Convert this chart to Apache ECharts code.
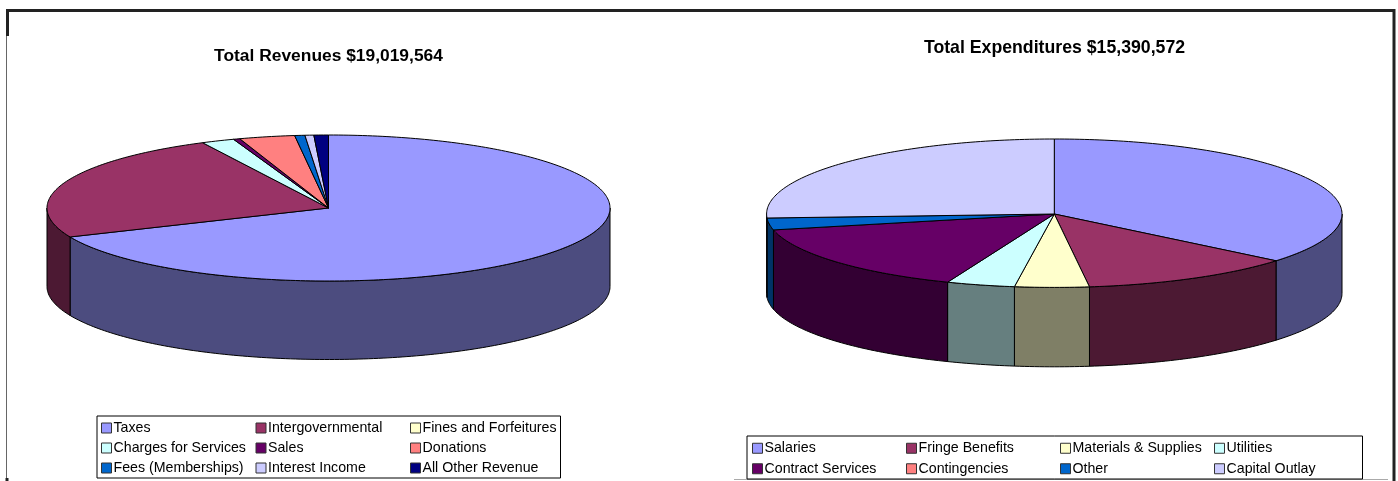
<!DOCTYPE html>
<html>
<head>
<meta charset="utf-8">
<style>
html, body { margin: 0; padding: 0; background: #fff; }
#chart01 { width: 1398px; height: 481px; }
</style>
<script src="https://cdn.jsdelivr.net/npm/echarts@6/dist/echarts.min.js"></script>
</head>
<body>
<div id="chart01"></div>
<script>
var revenueNames = ['Taxes', 'Intergovernmental', 'Fines and Forfeitures', 'Charges for Services', 'Sales', 'Donations', 'Fees (Memberships)', 'Interest Income', 'All Other Revenue'];
var revenueValues = [13029564, 4586000, 0, 362000, 71000, 606000, 111000, 96000, 158000];
var revenueColors = ['#9999FF', '#993366', '#FFFFCC', '#CCFFFF', '#660066', '#FF8080', '#0066CC', '#CCCCFF', '#000080'];

var expenseNames = ['Salaries', 'Fringe Benefits', 'Materials & Supplies', 'Utilities', 'Contract Services', 'Contingencies', 'Other', 'Capital Outlay'];
var expenseValues = [5540000, 1855000, 641000, 590000, 2381000, 0, 402000, 3981572];
var expenseColors = ['#9999FF', '#993366', '#FFFFCC', '#CCFFFF', '#660066', '#FF8080', '#0066CC', '#CCCCFF'];

var fontName = '"Liberation Sans", Arial, sans-serif';
var myChart = echarts.init(document.getElementById('chart01'));

function darken(hex) {
    var n = parseInt(hex.slice(1), 16);
    var r = (n >> 16) >> 1, g = ((n >> 8) & 255) >> 1, b = (n & 255) >> 1;
    return 'rgb(' + r + ',' + g + ',' + b + ')';
}

// point on the disc rim, angle in degrees clockwise from 12 o'clock
function rimPoint(pie, deg, drop) {
    var t = deg * Math.PI / 180;
    var c = Math.cos(t);
    // back half of the ellipse is a little deeper than the front half
    return [pie.cx + pie.rx * Math.sin(t), pie.cy - (c > 0 ? pie.ryBack : pie.ryFront) * c + drop];
}

function arcPoints(pie, from, to, drop) {
    var pts = [];
    var steps = Math.max(2, Math.ceil(Math.abs(to - from)));
    for (var i = 0; i <= steps; i++) {
        pts.push(rimPoint(pie, from + (to - from) * i / steps, drop));
    }
    return pts;
}

// one custom series per slice, so the legend can pick them up by name
function pieSeries(pie, names, values, colors) {
    var total = values.reduce(function (a, b) { return a + b; }, 0);
    var acc = 0;
    return names.map(function (name, i) {
        var start = acc / total * 360;
        acc += values[i];
        var end = acc / total * 360;
        return {
            name: name,
            type: 'custom',
            coordinateSystem: 'none',
            silent: true,
            itemStyle: { color: colors[i] },
            data: [values[i]],
            renderItem: function () {
                var children = [];
                if (end <= start) {
                    return { type: 'group', children: children };
                }
                // the wall only shows on the front half of the disc
                var a = Math.max(start, 90), b = Math.min(end, 270);
                if (b > a) {
                    children.push({
                        type: 'polygon',
                        shape: { points: arcPoints(pie, a, b, 0).concat(arcPoints(pie, b, a, pie.depth)) },
                        style: { fill: darken(colors[i]), stroke: '#000', lineWidth: 1 }
                    });
                }
                children.push({
                    type: 'polygon',
                    shape: { points: [[pie.cx, pie.cy]].concat(arcPoints(pie, start, end, 0)) },
                    style: { fill: colors[i], stroke: '#000', lineWidth: 1 }
                });
                return { type: 'group', children: children };
            }
        };
    });
}

function legendBox(names, left, top, colWidths, lineHeight, padLeft) {
    var total = colWidths.reduce(function (a, b) { return a + b; }, 0);
    return {
        data: names.map(function (name, i) {
            return { name: name, textStyle: { width: colWidths[i % colWidths.length] - 12 } };
        }),
        left: left,
        top: top,
        width: total + 2,
        padding: [2, 0, 0, padLeft],
        itemGap: 0,
        itemWidth: 10,
        itemHeight: 10,
        icon: 'rect',
        borderColor: '#000',
        borderWidth: 1,
        backgroundColor: '#fff',
        selectedMode: false,
        itemStyle: { borderColor: '#333', borderWidth: 1 },
        textStyle: {
            color: '#000',
            fontFamily: fontName,
            fontSize: 14.2,
            height: lineHeight,
            lineHeight: lineHeight,
            padding: [0, 0, 0, -3]
        }
    };
}

var revenuePie = { cx: 328.5, cy: 208, rx: 281.5, ryBack: 73, ryFront: 73, depth: 78.5 };
var expensePie = { cx: 1054.3, cy: 214, rx: 287.7, ryBack: 75, ryFront: 73.4, depth: 79.4 };

var frameStyle = { stroke: '#222', lineWidth: 3 };
var thinStyle = { stroke: '#666', lineWidth: 1 };

option = {
    animation: false,
    backgroundColor: '#fff',
    title: [
        { text: 'Total Revenues $19,019,564', left: 328.5, top: 48, textAlign: 'center', padding: 0,
          textStyle: { fontFamily: fontName, fontSize: 17.4, fontWeight: 'bold', color: '#000' } },
        { text: 'Total Expenditures $15,390,572', left: 1054.5, top: 39, textAlign: 'center', padding: 0,
          textStyle: { fontFamily: fontName, fontSize: 17.7, fontWeight: 'bold', color: '#000' } }
    ],
    legend: [
        legendBox(revenueNames, 97, 416, [154, 154, 150], 20, 4),
        legendBox(expenseNames, 747, 436, [153.5, 153.5, 153.5, 148], 20.5, 5)
    ],
    graphic: [
        { type: 'line', shape: { x1: 7, y1: 10.5, x2: 1395, y2: 10.5 }, style: frameStyle },
        { type: 'line', shape: { x1: 7.5, y1: 9, x2: 7.5, y2: 36 }, style: frameStyle },
        { type: 'line', shape: { x1: 1394, y1: 9, x2: 1394, y2: 481 }, style: frameStyle },
        { type: 'line', shape: { x1: 6.5, y1: 36, x2: 6.5, y2: 481 }, style: thinStyle },
        { type: 'line', shape: { x1: 7, y1: 478, x2: 7, y2: 481 }, style: frameStyle },
        { type: 'line', shape: { x1: 734, y1: 479.5, x2: 1388, y2: 479.5 }, style: { stroke: '#aaa', lineWidth: 1 } }
    ],
    series: pieSeries(revenuePie, revenueNames, revenueValues, revenueColors)
        .concat(pieSeries(expensePie, expenseNames, expenseValues, expenseColors))
};
if (option && typeof option === "object") {
    myChart.setOption(option, true);
}
</script>
</body>
</html>
